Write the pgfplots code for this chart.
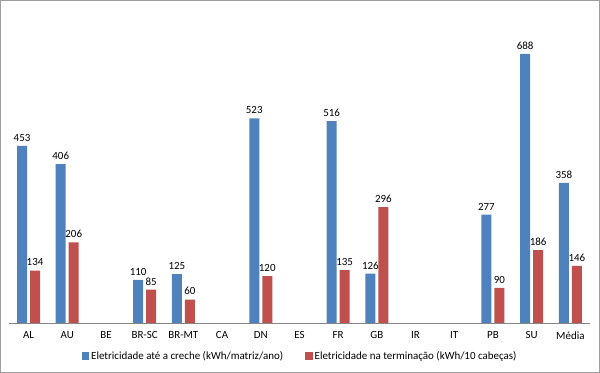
\documentclass[border=0pt]{standalone}
\usepackage{fontspec}
\setmainfont{Carlito}
\usepackage{pgfplots}
\pgfplotsset{compat=1.18}
\definecolor{xlblue}{HTML}{4F81BD}
\definecolor{xlred}{HTML}{C0504D}
\definecolor{xlgray}{HTML}{868686}
\begin{document}
\begin{tikzpicture}
\useasboundingbox (-9.2bp,-50bp) rectangle (590.8bp,323bp);
\begin{axis}[
  scale only axis,
  width=580.5bp, height=313bp,
  xmin=-0.5, xmax=14.5,
  ymin=0, ymax=800,
  ybar=3bp, bar width=10bp,
  axis y line=none,
  axis x line*=bottom,
  x axis line style={xlgray, line width=0.8pt, -},
  xtick={0,...,14},
  xticklabels={AL,AU,BE,BR-SC,BR-MT,CA,DN,ES,FR,GB,IR,IT,PB,SU,Média},
  xtick style={draw=none},
  xticklabel style={font=\fontsize{11}{13}\selectfont, text=black, yshift=-1bp},
  /pgf/number format/assume math mode=true,
  nodes near coords,
  every node near coord/.append style={font=\fontsize{11}{13}\selectfont, text=black, yshift=1bp},
  legend columns=2,
  legend style={draw=none, at={(0.501,-0.105)}, anchor=center,
    font=\fontsize{11}{13}\selectfont, text=black,
    /tikz/every even column/.append style={column sep=20bp}},
  legend image code/.code={\fill[#1] (0bp,-3.8bp) rectangle (7.6bp,3.8bp);},
]
\addplot[draw=none, fill=xlblue] coordinates {
 (0,453) (1,406) (3,110) (4,125) (6,523) (8,516) (9,126) (12,277) (13,688) (14,358)};
\addplot[draw=none, fill=xlred] coordinates {
 (0,134) (1,206) (3,85) (4,60) (6,120) (8,135) (9,296) (12,90) (13,186) (14,146)};
\legend{Eletricidade até a creche (kWh/matriz/ano), Eletricidade na terminação (kWh/10 cabeças)}
\end{axis}
\draw[xlgray!80, line width=1bp] (-8.7bp,-49.5bp) rectangle (590.3bp,322.5bp);
\end{tikzpicture}
\end{document}
